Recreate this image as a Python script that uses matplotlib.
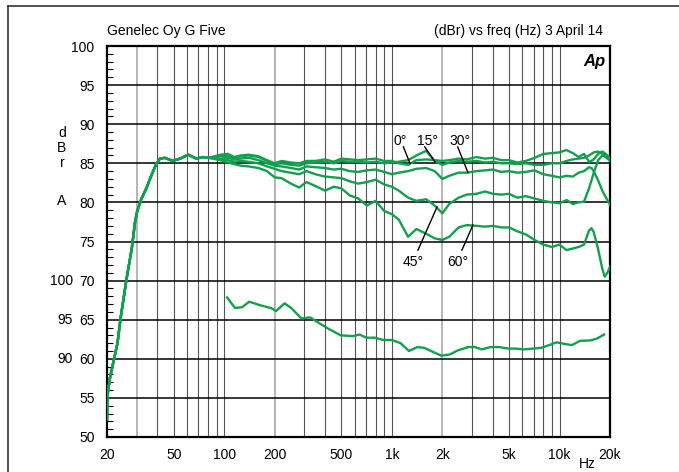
import numpy as np
import matplotlib.pyplot as plt
from matplotlib.ticker import FixedLocator, NullFormatter
import matplotlib.transforms as mtransforms

plt.rcParams['font.family'] = ['Liberation Sans', 'DejaVu Sans']

# parte comune a bassa frequenza (tutte le curve coincidono)
lf_freq = [20, 20.1, 20.8, 22.3, 23.1, 24.1, 26.2, 28.1, 29.4, 30.3, 32.0, 34.5, 36.7,
           39.3, 41.4, 44.3, 49.3, 54.6, 61.1, 68.1, 75.0, 80]
lf_db = [52.2, 55.2, 57.5, 60.5, 62.0, 65.2, 70.3, 74.1, 77.5, 78.9, 80.4, 81.9, 83.4,
         84.9, 85.6, 85.7, 85.3, 85.6, 86.1, 85.6, 85.8, 85.7]

# risposta fuori asse, da 85 Hz in su
hf_freq = [85, 95, 105, 115, 125, 140, 160, 180, 200, 220, 250, 280, 310, 350, 400, 450,
           500, 560, 630, 710, 800, 900, 1000, 1100, 1250, 1400, 1600, 1800, 2000, 2200,
           2500, 2800, 3200, 3600, 4000, 4500, 5000, 5600, 6300, 7100, 8000, 9000, 10000,
           11000, 12000, 13000, 14000, 15000, 15500, 16000, 17000, 18000, 18600, 19300, 20000]
db_0 = [85.8, 86.1, 86.2, 85.8, 86.0, 86.1, 85.9, 85.4, 85.0, 85.3, 85.1, 85.0, 85.3, 85.3,
        85.5, 85.2, 85.6, 85.5, 85.4, 85.5, 85.6, 85.3, 85.3, 85.0, 84.8, 85.4, 85.5, 85.4,
        85.3, 85.4, 85.6, 85.5, 85.8, 85.6, 85.7, 85.4, 85.4, 85.1, 85.3, 85.7, 86.2, 86.3,
        86.4, 86.7, 86.3, 85.8, 86.2, 85.2, 85.3, 85.5, 86.2, 86.5, 86.3, 86.0, 85.7]
db_15 = [85.8, 86.0, 85.9, 85.7, 85.9, 86.0, 85.8, 85.3, 84.9, 85.0, 84.8, 84.7, 85.0, 85.1,
         85.2, 85.0, 85.3, 85.2, 85.2, 85.1, 85.2, 85.0, 85.1, 85.2, 85.4, 86.0, 86.6, 85.3,
         84.8, 85.1, 85.3, 85.2, 85.3, 85.1, 85.2, 85.0, 85.0, 84.9, 85.0, 84.8, 84.8, 85.0,
         85.0, 85.3, 85.5, 85.6, 85.7, 86.0, 86.2, 86.4, 86.5, 86.2, 86.0, 85.8, 85.5]
db_30 = [85.7, 85.9, 85.7, 85.5, 85.6, 85.7, 85.4, 85.0, 84.7, 84.6, 84.4, 84.2, 84.6, 84.5,
         84.4, 84.2, 84.3, 84.0, 83.9, 84.1, 84.2, 83.9, 83.6, 83.8, 84.0, 84.3, 84.4, 84.0,
         83.0, 83.4, 83.8, 83.8, 84.0, 84.1, 84.2, 83.9, 84.0, 83.8, 83.9, 84.1, 83.6, 83.4,
         83.2, 83.4, 83.3, 83.8, 84.0, 84.5, 84.4, 84.0, 82.8, 81.5, 80.9, 80.3, 79.7]
db_45 = [85.7, 85.6, 85.4, 85.2, 85.3, 85.2, 85.0, 84.6, 84.3, 84.0, 83.8, 83.6, 84.0, 83.6,
         83.3, 83.2, 83.1, 82.7, 82.4, 82.6, 82.9, 82.3, 82.0, 81.5, 80.6, 80.2, 80.4, 79.6,
         78.6, 79.8, 80.6, 81.0, 81.1, 81.4, 81.1, 81.0, 81.1, 80.6, 80.8, 80.5, 80.2, 80.0,
         79.9, 80.3, 79.8, 80.0, 80.1, 81.8, 82.8, 83.8, 85.4, 86.0, 85.9, 85.6, 85.3]
db_60 = [85.6, 85.4, 85.1, 84.9, 84.7, 84.6, 84.4, 84.0, 83.2, 83.1, 82.4, 81.9, 82.6, 82.1,
         81.5, 82.0, 81.8, 80.9, 80.5, 79.6, 80.2, 78.9, 78.5, 77.8, 75.6, 76.6, 76.0, 75.4,
         75.2, 75.6, 76.8, 77.1, 77.0, 76.9, 77.0, 76.8, 76.8, 76.3, 75.9, 75.2, 74.6, 74.3,
         74.6, 73.9, 74.1, 74.3, 74.6, 76.4, 76.7, 76.2, 74.0, 71.5, 70.5, 71.0, 71.8]

# seconda misura (scala 90..100 a sinistra)
low_freq = [104, 116, 128, 141, 161, 181, 190, 204, 229, 251, 289, 325, 366, 421, 496, 585,
            641, 704, 791, 889, 1000, 1127, 1264, 1420, 1559, 1752, 1970, 2214, 2488, 2857,
            3130, 3438, 3862, 4339, 4989, 5480, 6156, 6916, 7770, 8533, 9587, 10770, 11830,
            13290, 15270, 16780, 18430]
low_db = [97.85, 96.5, 96.6, 97.3, 96.9, 96.6, 96.5, 96.1, 97.1, 96.5, 95.15, 95.3, 94.6,
          93.8, 93.0, 92.9, 93.1, 92.7, 92.7, 92.4, 92.4, 92.0, 91.0, 91.5, 91.4, 90.9, 90.4,
          90.55, 91.1, 91.5, 91.5, 91.2, 91.5, 91.5, 91.3, 91.3, 91.2, 91.3, 91.4, 91.7, 92.1,
          91.9, 91.75, 92.3, 92.35, 92.6, 93.1]
low_offset = 30

x_ticks = [20, 50, 100, 200, 500, 1000, 2000, 5000, 10000, 20000]
x_labels = ['20', '50', '100', '200', '500', '1k', '2k', '5k', '10k', '20k']
y_ticks = list(range(50, 101, 5))
low_ticks = [100, 95, 90]

green = '#13a04e'

fig = plt.figure(figsize=(6.79, 4.72), dpi=100)
ax = fig.add_axes([107 / 679, 1 - 437 / 472, 503 / 679, 391 / 472])
ax.set_xscale('log')
ax.set_xlim(20, 20000)
ax.set_ylim(50, 100)

# griglia
grid_f = [m * 10 ** k for k in range(1, 5) for m in range(1, 10) if 20 < m * 10 ** k < 20000]
light = [30, 200, 2000]
for f in grid_f:
    if f in light:
        ax.axvline(f, color='#b0b0b0', lw=1.3, zorder=1)
    else:
        ax.axvline(f, color='#555555', lw=0.8, zorder=1)
for v in y_ticks[1:-1]:
    ax.axhline(v, color='black', lw=1.1, zorder=1)

for curve in [db_0, db_15, db_30, db_45, db_60]:
    ax.plot(lf_freq + hf_freq, lf_db + curve, color=green, lw=1.7, zorder=3)
ax.plot(low_freq, np.array(low_db) - low_offset, color=green, lw=1.7, zorder=3)

ax.set_xticks(x_ticks)
ax.set_xticklabels(x_labels)
ax.xaxis.set_minor_locator(FixedLocator([]))
ax.xaxis.set_minor_formatter(NullFormatter())
ax.set_yticks(y_ticks)
ax.yaxis.set_minor_locator(FixedLocator([v for v in range(50, 101) if v % 5]))
ax.tick_params(axis='x', length=0, pad=8, labelsize=10)
ax.tick_params(axis='y', which='major', length=0, pad=9, labelsize=10)
ax.tick_params(axis='y', which='minor', direction='in', length=4, width=0.8)
for s in ax.spines.values():
    s.set_linewidth(1.6)

trans = mtransforms.blended_transform_factory(ax.transAxes, ax.transData)
for v in low_ticks:
    ax.text(-0.068, v - low_offset, str(v), transform=trans, ha='right', va='center', fontsize=10)
for ch, yy in [('d', 88.9), ('B', 86.9), ('r', 85.0), ('A', 80.2)]:
    ax.text(-0.0895, yy, ch, transform=trans, ha='center', va='center', fontsize=10)

# etichette degli angoli
ann = [('0°', (1117, 87.85), (1172, 87.1), (1282, 85.0)),
       ('15°', (1641, 87.85), (1570, 87.1), (1807, 85.2)),
       ('30°', (2548, 87.85), (2470, 87.1), (2844, 83.8)),
       ('45°', (1336, 72.4), (1431, 73.9), (1858, 79.4)),
       ('60°', (2478, 72.4), (2616, 73.9), (3043, 77.1))]
for txt, pos, p0, p1 in ann:
    ax.text(pos[0], pos[1], txt, ha='center', va='center', fontsize=10, zorder=5)
    ax.plot([p0[0], p1[0]], [p0[1], p1[1]], color='black', lw=1.0, zorder=5)

ax.text(0.99, 0.96, 'Ap', transform=ax.transAxes, ha='right', va='center',
        fontsize=12, fontweight='bold', style='italic')

fig.text(107 / 679, 1 - 31 / 472, 'Genelec Oy G Five', ha='left', va='center', fontsize=10)
fig.text(603 / 679, 1 - 31 / 472, '(dBr) vs freq (Hz) 3 April 14', ha='right', va='center', fontsize=10)
fig.text(587 / 679, 1 - 464 / 472, 'Hz', ha='center', va='center', fontsize=10)

# cornice esterna (solo lati sinistro e superiore visibili)
fig.add_artist(plt.Line2D([8 / 679, 8 / 679], [0, 1 - 6 / 472], color='#333333', lw=1.2))
fig.add_artist(plt.Line2D([8 / 679, 1], [1 - 6 / 472, 1 - 6 / 472], color='#333333', lw=1.2))

fig.savefig('out.png', dpi=100)
